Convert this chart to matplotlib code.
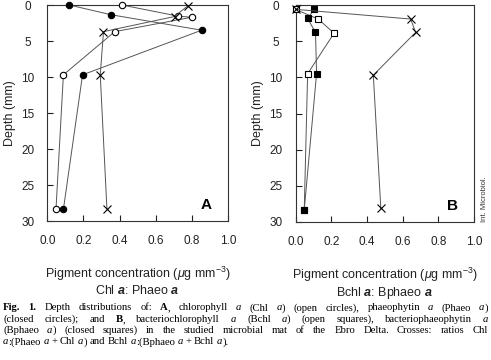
import matplotlib
matplotlib.use("Agg")
import matplotlib.pyplot as plt
import numpy as np

# ---------------- data ----------------
# Panel A
chl_x = [0.413, 0.724, 0.800, 0.373, 0.089, 0.048]
chl_d = [0.0, 1.55, 1.7, 3.7, 9.7, 28.4]
phaeo_x = [0.122, 0.352, 0.854, 0.195, 0.089]
phaeo_d = [0.0, 1.35, 3.5, 9.7, 28.4]
ratioA_x = [0.778, 0.704, 0.311, 0.293, 0.330]
ratioA_d = [0.1, 1.6, 3.7, 9.7, 28.3]
# Panel B
bchl_x = [0.0, 0.127, 0.216, 0.068, 0.049]
bchl_d = [0.6, 1.94, 3.9, 9.5, 28.3]
bphaeo_x = [0.105, 0.068, 0.112, 0.118, 0.049]
bphaeo_d = [0.6, 1.85, 3.8, 9.5, 28.3]
ratioB_x = [0.0, 0.645, 0.673, 0.436, 0.478]
ratioB_d = [0.6, 1.94, 3.78, 9.7, 28.1]

xticks = [0.0, 0.2, 0.4, 0.6, 0.8, 1.0]
yticks = [0, 5, 10, 15, 20, 25, 30]

SANS = "Liberation Sans"
SERIF = "Liberation Serif"
plt.rcParams["font.family"] = [SANS, "DejaVu Sans"]
plt.rcParams["mathtext.fontset"] = "custom"
plt.rcParams["mathtext.rm"] = SANS
plt.rcParams["mathtext.it"] = SANS + ":italic"
plt.rcParams["mathtext.bf"] = SANS + ":bold"
plt.rcParams["mathtext.bfit"] = SANS + ":italic:bold"

W, H = 491, 360
fig = plt.figure(figsize=(W / 100, H / 100), dpi=100)

LC = "#555555"
TC = "#222222"


def fx(px):
    return px / W


def fy(py):
    return 1 - py / H


def style_axes(ax, letter, sub):
    ax.set_xlim(0, 1)
    ax.set_ylim(30, 0)
    ax.set_xticks(xticks)
    ax.set_xticklabels([f"{v:.1f}" for v in xticks])
    ax.set_yticks(yticks)
    ax.set_yticklabels([str(v) for v in yticks])
    for lab in ax.get_yticklabels():
        lab.set_horizontalalignment("center")
    ax.tick_params(axis="both", direction="in", length=4, width=0.8,
                   labelsize=8.5, colors=TC)
    ax.tick_params(axis="x", pad=10)
    ax.tick_params(axis="y", pad=14)
    for s in ax.spines.values():
        s.set_linewidth(0.8)
        s.set_color("#333333")
    ax.set_ylabel("Depth (mm)", fontsize=9, labelpad=4, color=TC)
    ax.set_xlabel("Pigment concentration ($\\mu$g mm$^{-3}$)\n" + sub,
                  fontsize=9, labelpad=13, linespacing=1.05, color=TC)
    ax.text(0.88, 0.075, letter, transform=ax.transAxes, fontsize=11,
            fontweight="bold", ha="center", va="center")


axA = fig.add_axes([fx(47.3), fy(221), fx(228) - fx(47.3), fy(5) - fy(221)])
axB = fig.add_axes([fx(295.5), fy(222), fx(474) - fx(295.5), fy(5) - fy(222)])

ms = 4.6
kw = dict(color=LC, lw=0.7, markeredgewidth=0.8, markeredgecolor="black")
axA.plot(chl_x, chl_d, marker="o", ms=ms, markerfacecolor="white", zorder=3, **kw)
axA.plot(phaeo_x, phaeo_d, marker="o", ms=ms, markerfacecolor="black", zorder=3, **kw)
axA.plot(ratioA_x, ratioA_d, marker="x", ms=ms + 0.6, zorder=4, **kw)

axB.plot(bchl_x, bchl_d, marker="s", ms=ms, markerfacecolor="white", zorder=3, **kw)
axB.plot(bphaeo_x, bphaeo_d, marker="s", ms=ms, markerfacecolor="black", zorder=4, **kw)
axB.plot(ratioB_x, ratioB_d, marker="x", ms=ms + 0.6, zorder=5, **kw)

for ax in (axA, axB):
    for ln in ax.lines:
        ln.set_clip_on(False)

style_axes(axA, "A", "Chl $\\mathbfit{a}$: Phaeo $\\mathbfit{a}$")
style_axes(axB, "B", "Bchl $\\mathbfit{a}$: Bphaeo $\\mathbfit{a}$")

fig.text(fx(485), fy(222), "Int. Microbiol.", rotation=90, fontsize=5.5,
         ha="center", va="bottom", color="#333333")

# ---------------- caption ----------------
R, B_, I = "r", "b", "i"
cap_lines = [
    [("Fig. 1.", B_), (" Depth distributions of: ", R), ("A", B_), (", chlorophyll ", R), ("a", I),
     (" (Chl ", R), ("a", I), (") (open circles), phaeophytin ", R), ("a", I), (" (Phaeo ", R),
     ("a", I), (")", R)],
    [("(closed circles); and ", R), ("B", B_), (", bacteriochlorophyll ", R), ("a", I),
     (" (Bchl ", R), ("a", I), (") (open squares), bacteriophaeophytin ", R), ("a", I)],
    [("(Bphaeo ", R), ("a", I), (") (closed squares) in the studied microbial mat of the Ebro Delta. Crosses:  ratios Chl", R)],
    [("a", I), (":(Phaeo ", R), ("a", I), (" + Chl ", R), ("a", I), (") and Bchl ", R), ("a", I),
     (":(Bphaeo ", R), ("a", I), (" + Bchl ", R), ("a", I), (").", R)],
]
cap_y = [308.0, 319.3, 330.6, 341.9]
cap_fs = 7.7
x0, x1 = 3.0, 488.0

renderer = fig.canvas.get_renderer()


def props(st):
    d = dict(fontsize=cap_fs, family=SERIF, color="black")
    if st == B_:
        d["fontweight"] = "bold"
    if st == I:
        d["fontstyle"] = "italic"
    return d


def measure(s, st):
    t = fig.text(0, 0, s, **props(st))
    w = t.get_window_extent(renderer).width
    t.remove()
    return w


def split_words(line):
    words = [[]]
    for s, st in line:
        pieces = s.split(" ")
        for k, p in enumerate(pieces):
            if k > 0:
                words.append([])
            if p:
                words[-1].append((p, st))
    return [w for w in words if w]


space_w = measure("a a", R) - measure("aa", R)
for li, (line, yy) in enumerate(zip(cap_lines, cap_y)):
    words = split_words(line)
    widths = [[measure(p, st) for p, st in w] for w in words]
    tot = sum(sum(ws) for ws in widths)
    if li < len(cap_lines) - 1 and len(words) > 1:
        gap = ((x1 - x0) - tot) / (len(words) - 1)
    else:
        gap = space_w
    x = x0
    for w, ws in zip(words, widths):
        for (p, st), pw in zip(w, ws):
            fig.text(fx(x), fy(yy), p, ha="left", va="center", **props(st))
            x += pw
        x += gap

fig.savefig("out.png", dpi=100)
